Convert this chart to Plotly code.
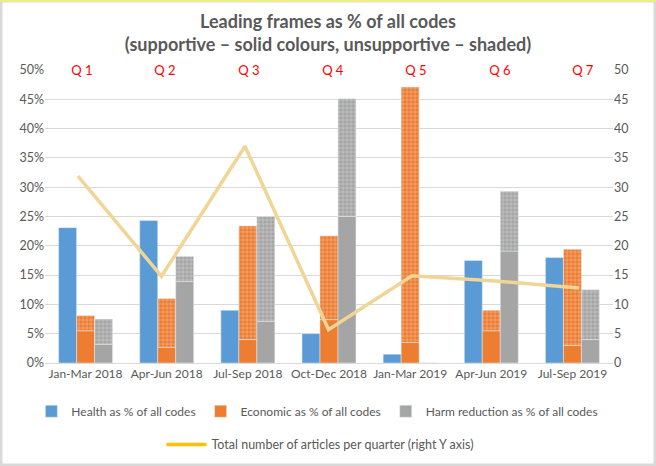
import plotly.graph_objects as go

categories = ["Jan-Mar 2018", "Apr-Jun 2018", "Jul-Sep 2018", "Oct-Dec 2018",
              "Jan-Mar 2019", "Apr-Jun 2019", "Jul-Sep 2019"]
quarter_labels = ["Q 1", "Q 2", "Q 3", "Q 4", "Q 5", "Q 6", "Q 7"]

health = [23.1, 24.3, 9.0, 5.0, 1.5, 17.5, 18.0]
econ_supportive = [5.5, 2.7, 4.0, 7.4, 3.5, 5.5, 3.0]
econ_total = [8.1, 11.0, 23.4, 21.7, 47.1, 9.0, 19.4]
harm_supportive = [3.2, 13.9, 7.1, 25.0, 0.0, 19.1, 4.0]
harm_total = [7.5, 18.2, 25.0, 45.1, 0.0, 29.3, 12.5]
articles = [31.9, 14.8, 37.0, 5.7, 14.9, 14.0, 12.8]

econ_unsupp = [t - s for t, s in zip(econ_total, econ_supportive)]
harm_unsupp = [t - s for t, s in zip(harm_total, harm_supportive)]

BLUE = "#5B9BD5"
ORANGE = "#ED7D31"
GREY = "#A5A5A5"
TXT = "#595959"
FONT = "Lato"

fig = go.Figure()
fig.add_trace(go.Bar(x=categories, y=health, name="Health as % of all codes",
                     marker_color=BLUE, offsetgroup="h", legend="legend"))
fig.add_trace(go.Bar(x=categories, y=econ_supportive, name="Economic as % of all codes",
                     marker_color=ORANGE, offsetgroup="e", legend="legend"))
fig.add_trace(go.Bar(x=categories, y=econ_unsupp, base=econ_supportive, showlegend=False,
                     marker=dict(color=ORANGE, pattern=dict(shape="+", fgcolor="white",
                                 bgcolor=ORANGE, size=4, solidity=0.25)),
                     offsetgroup="e"))
fig.add_trace(go.Bar(x=categories, y=harm_supportive, name="Harm reduction as % of all codes",
                     marker_color=GREY, offsetgroup="r", legend="legend"))
fig.add_trace(go.Bar(x=categories, y=harm_unsupp, base=harm_supportive, showlegend=False,
                     marker=dict(color=GREY, pattern=dict(shape="+", fgcolor="white",
                                 bgcolor=GREY, size=4, solidity=0.25)),
                     offsetgroup="r"))
fig.add_trace(go.Scatter(x=quarter_labels, y=articles, mode="lines", showlegend=False,
                         line=dict(color="#EFD596", width=3.5), xaxis="x2", yaxis="y2"))
fig.add_trace(go.Scatter(x=[None], y=[None], mode="lines",
                         name="Total number of articles per quarter (right Y axis)",
                         line=dict(color="#FFC000", width=3.5), xaxis="x2", yaxis="y2",
                         legend="legend2"))

for q in quarter_labels:
    fig.add_annotation(x=q, xref="x2", y=1.0, yref="paper", yanchor="middle",
                       text=q, showarrow=False,
                       font=dict(color="#FF0000", size=13, family=FONT),
                       bgcolor="white", width=58, height=16, xshift=4)

ml, mr, mt, mb = 45, 43, 70, 103
W, H = 656, 466
pw, ph = W - ml - mr, H - mt - mb
fx0, fx1 = -ml / pw, 1 + mr / pw
fy0, fy1 = -mb / ph, 1 + mt / ph
fig.add_shape(type="rect", xref="paper", yref="paper", x0=fx0, x1=fx1, y0=fy0, y1=fy1,
              line=dict(color="#D9D9D9", width=5), layer="above")
fig.add_shape(type="line", xref="paper", yref="paper", x0=fx0, x1=fx1, y0=fy1, y1=fy1,
              line=dict(color="#F0EC86", width=4), layer="above")

fig.update_layout(
    width=W, height=H,
    margin=dict(l=ml, r=mr, t=mt, b=mb, autoexpand=False),
    paper_bgcolor="white", plot_bgcolor="white",
    font=dict(family=FONT, color=TXT, size=12),
    title=dict(text="<b>Leading frames as % of all codes<br>(supportive – solid colours, unsupportive – shaded)</b>",
               x=0.5, xanchor="center", yref="container", y=1 - 28 / H, yanchor="middle",
               font=dict(size=18, color=TXT, family=FONT)),
    barmode="group", bargap=0.335, bargroupgap=0,
    xaxis=dict(type="category", showgrid=False, showline=True, linecolor="#D9D9D9",
               ticks="", tickangle=0, automargin=False, tickfont=dict(size=12, color=TXT)),
    xaxis2=dict(type="category", overlaying="x", range=[-0.395, 6.407], visible=False),
    yaxis=dict(range=[0, 50], dtick=5, ticksuffix="%", showgrid=True, gridcolor="#D9D9D9",
               zeroline=False, showline=False, automargin=False,
               tickfont=dict(size=12.5, color=TXT)),
    yaxis2=dict(range=[0, 50], dtick=5, overlaying="y", side="right", showgrid=False,
                zeroline=False, automargin=False, tickfont=dict(size=12.5, color=TXT)),
    legend=dict(orientation="h", x=-0.024, xanchor="left", y=-0.115, yanchor="top",
                font=dict(size=12, color=TXT), itemwidth=30, traceorder="normal"),
    legend2=dict(orientation="h", x=0.485, xanchor="center", y=-0.228, yanchor="top",
                 font=dict(size=12.5, color=TXT), itemwidth=40),
)

fig.write_html("out.html", post_script="document.body.style.margin='0';",
               config={"displayModeBar": False})
